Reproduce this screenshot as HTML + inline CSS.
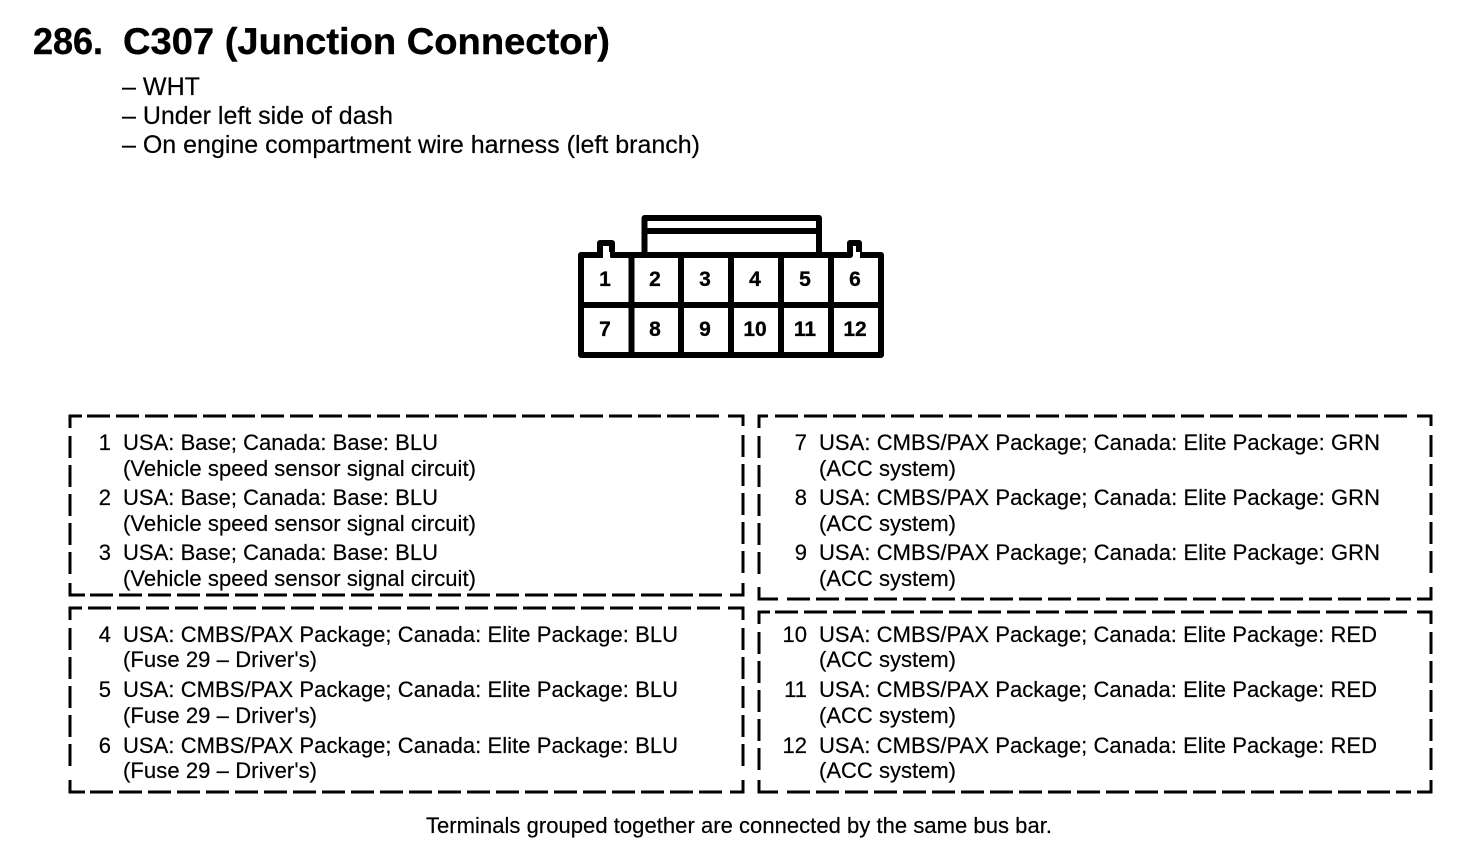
<!DOCTYPE html>
<html><head><meta charset="utf-8"><style>
html,body{margin:0;padding:0;background:#fff;width:1472px;height:860px;overflow:hidden}
svg{display:block}
text{font-family:"Liberation Sans",sans-serif;fill:#000;stroke:#000;stroke-width:.2}
.b{font-size:22px}
.h{font-size:25px}
.p{font-size:21px;font-weight:bold;text-anchor:middle;stroke-width:.3}
.n{text-anchor:end}
.d{fill:none;stroke:#000;stroke-width:3;stroke-dasharray:23 6}
.v{fill:none;stroke:#000;stroke-width:3;stroke-dasharray:22 7}
.c{fill:none;stroke:#000;stroke-width:3}
</style></head><body>
<svg width="1472" height="860" viewBox="0 0 1472 860" xmlns="http://www.w3.org/2000/svg">
<text x="33" y="54" font-size="37" font-weight="bold" style="stroke-width:.4" textLength="70" lengthAdjust="spacingAndGlyphs">286.</text>
<text x="123" y="54" font-size="37" font-weight="bold" style="stroke-width:.4" textLength="487" lengthAdjust="spacingAndGlyphs">C307 (Junction Connector)</text>
<text class="h" x="122" y="95" textLength="78" lengthAdjust="spacingAndGlyphs">– WHT</text>
<text class="h" x="122" y="124" textLength="271" lengthAdjust="spacingAndGlyphs">– Under left side of dash</text>
<text class="h" x="122" y="153" textLength="578" lengthAdjust="spacingAndGlyphs">– On engine compartment wire harness (left branch)</text>

<g fill="none" stroke="#000" stroke-width="6" stroke-linejoin="round" stroke-linecap="round">
<path d="M644.5 255V218H819V255M644.5 231H819"/>
<path d="M603 255H581V355H881V255H859V243H850V255H819M644.5 255H612V243H600V255"/>
<path d="M612 255H850M581 305H881M631.5 255V355M681 255V355M731 255V355M781 255V355M831 255V355"/>
</g>
<path d="M603 252h7v8h-7zM853 252h7v8h-7z" fill="#fff"/>
<g>
<text class="p" x="605" y="286">1</text><text class="p" x="655" y="286">2</text><text class="p" x="705" y="286">3</text><text class="p" x="755" y="286">4</text><text class="p" x="805" y="286">5</text><text class="p" x="855" y="286">6</text>
<text class="p" x="605" y="336">7</text><text class="p" x="655" y="336">8</text><text class="p" x="705" y="336">9</text><text class="p" x="755" y="336">10</text><text class="p" x="805" y="336">11</text><text class="p" x="855" y="336">12</text>
</g>

<!-- box 1 -->
<path class="c" d="M70 428V416H82M743 426V416H728M70 583V595H85M743 583V595H730"/>
<path class="d" d="M87 416H722M90 595H725"/><path class="v" d="M70 436V576M743 435V575"/>
<!-- box 2 -->
<path class="c" d="M70 620V608H82M743 620V608H728M70 780V792H85M743 780V792H730"/>
<path class="d" d="M88 608H722M90 792H725"/><path class="v" d="M70 628V771M743 628V771"/>
<!-- box 3 -->
<path class="c" d="M759 428V416H768M1431 426V416H1417M759 587V599H778M1431 587V599H1417"/>
<path class="d" d="M775 416H1410M787 599H1411"/><path class="v" d="M759 436V580M1431 435V579"/>
<!-- box 4 -->
<path class="c" d="M759 624V612H770M1431 624V612H1417M759 780V792H778M1431 780V792H1417"/>
<path class="d" d="M775 612H1410M787 792H1411"/><path class="v" d="M759 632V775M1431 632V775"/>

<g class="b">
<text class="n" x="111" y="450">1</text><text x="123" y="450" textLength="315">USA: Base; Canada: Base: BLU</text>
<text x="123" y="476" textLength="353">(Vehicle speed sensor signal circuit)</text>
<text class="n" x="111" y="505">2</text><text x="123" y="505" textLength="315">USA: Base; Canada: Base: BLU</text>
<text x="123" y="531" textLength="353">(Vehicle speed sensor signal circuit)</text>
<text class="n" x="111" y="560">3</text><text x="123" y="560" textLength="315">USA: Base; Canada: Base: BLU</text>
<text x="123" y="586" textLength="353">(Vehicle speed sensor signal circuit)</text>

<text class="n" x="111" y="642">4</text><text x="123" y="642" textLength="555">USA: CMBS/PAX Package; Canada: Elite Package: BLU</text>
<text x="123" y="667" textLength="194">(Fuse 29 – Driver's)</text>
<text class="n" x="111" y="697">5</text><text x="123" y="697" textLength="555">USA: CMBS/PAX Package; Canada: Elite Package: BLU</text>
<text x="123" y="723" textLength="194">(Fuse 29 – Driver's)</text>
<text class="n" x="111" y="753">6</text><text x="123" y="753" textLength="555">USA: CMBS/PAX Package; Canada: Elite Package: BLU</text>
<text x="123" y="778" textLength="194">(Fuse 29 – Driver's)</text>

<text class="n" x="807" y="450">7</text><text x="819" y="450" textLength="561">USA: CMBS/PAX Package; Canada: Elite Package: GRN</text>
<text x="819" y="476" textLength="137">(ACC system)</text>
<text class="n" x="807" y="505">8</text><text x="819" y="505" textLength="561">USA: CMBS/PAX Package; Canada: Elite Package: GRN</text>
<text x="819" y="531" textLength="137">(ACC system)</text>
<text class="n" x="807" y="560">9</text><text x="819" y="560" textLength="561">USA: CMBS/PAX Package; Canada: Elite Package: GRN</text>
<text x="819" y="586" textLength="137">(ACC system)</text>

<text class="n" x="807" y="642">10</text><text x="819" y="642" textLength="558">USA: CMBS/PAX Package; Canada: Elite Package: RED</text>
<text x="819" y="667" textLength="137">(ACC system)</text>
<text class="n" x="807" y="697">11</text><text x="819" y="697" textLength="558">USA: CMBS/PAX Package; Canada: Elite Package: RED</text>
<text x="819" y="723" textLength="137">(ACC system)</text>
<text class="n" x="807" y="753">12</text><text x="819" y="753" textLength="558">USA: CMBS/PAX Package; Canada: Elite Package: RED</text>
<text x="819" y="778" textLength="137">(ACC system)</text>

<text x="426" y="833" textLength="626">Terminals grouped together are connected by the same bus bar.</text>
</g>
</svg>
</body></html>
